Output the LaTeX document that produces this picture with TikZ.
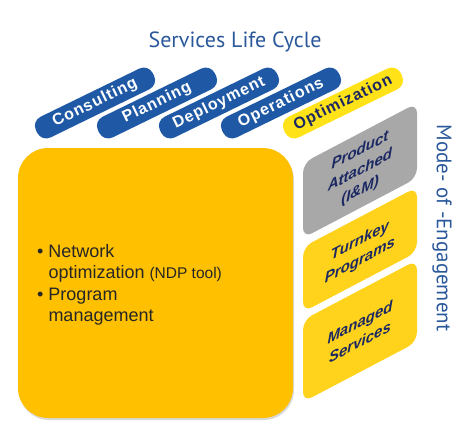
\documentclass[tikz,border=0pt]{standalone}
\usepackage{fontspec}
\setmainfont{Liberation Sans}
\newfontfamily\titlefont{PT Sans}
\usepackage{tikz}
\usetikzlibrary{positioning}
\definecolor{lcblue}{RGB}{31,89,165}
\definecolor{titleblue}{RGB}{42,88,155}
\definecolor{frontyellow}{RGB}{255,192,0}
\definecolor{sideyellow}{RGB}{255,211,28}
\definecolor{optyellow}{RGB}{255,226,24}
\definecolor{sidegray}{RGB}{168,168,168}
\definecolor{mnavy}{RGB}{27,40,98}

\begin{document}
\begin{tikzpicture}[x=1pt,y=-1pt,
  pill/.style={rectangle,rounded corners=10pt,minimum width=130pt,minimum height=23pt,inner sep=0pt,rotate=26,
    font=\bfseries\fontsize{16}{16}\selectfont\addfontfeature{LetterSpace=6}},
  sidetext/.style={font=\bfseries\itshape\fontsize{15}{20}\selectfont,text=mnavy,align=center,transform shape,inner sep=0pt}]
\useasboundingbox (0,0) rectangle (468,431);
\node[font=\titlefont\fontsize{22}{22}\selectfont,text=titleblue] (title) at (235,42) {Services Life Cycle};
\foreach \i/\t/\n in {0/Consulting/cons,1/Planning/plan,2/Deployment/depl,3/Operations/oper}
 \node[pill,fill=lcblue,text=white] (\n) at ({95+\i*62},103) {\t};
\node[pill,fill=optyellow,text=mnavy] (opt) at (343,103) {Optimization};
\fill[black!15,rounded corners=30pt] (19,150) rectangle (294,420);
\fill[frontyellow,rounded corners=30pt] (18,148) rectangle (293,418);
\node[anchor=north west,inner sep=0pt,text=black!85,font=\fontsize{18}{21.5}\selectfont] (list) at (37,242)
 {\begin{tabular}{@{}l@{\hspace{5pt}}l@{}}
  \textbullet & Network\\
   & optimization {\fontsize{15.5}{15.5}\selectfont (NDP tool)}\\
  \textbullet & Program\\
   & management
 \end{tabular}};
\begin{scope}[shift={(303,0)},yslant=0.526]
\fill[sidegray,rounded corners=10pt] (0,163) rectangle (114,238);
\fill[sideyellow,rounded corners=10pt] (0,247) rectangle (114,312);
\fill[sideyellow,rounded corners=10pt] (0,320) rectangle (114,402);
\node[sidetext] (pia) at (57,201) {Product\\Attached\\(I\&M)};
\node[sidetext] (turnkey) at (57,281) {Turnkey\\Programs};
\node[sidetext] (managed) at (57,362) {Managed\\Services};
\end{scope}
\node[font=\titlefont\fontsize{21}{21}\selectfont,text=titleblue,rotate=-90] (mode) at (442,228) {Mode- of -Engagement};
\end{tikzpicture}
\end{document}
